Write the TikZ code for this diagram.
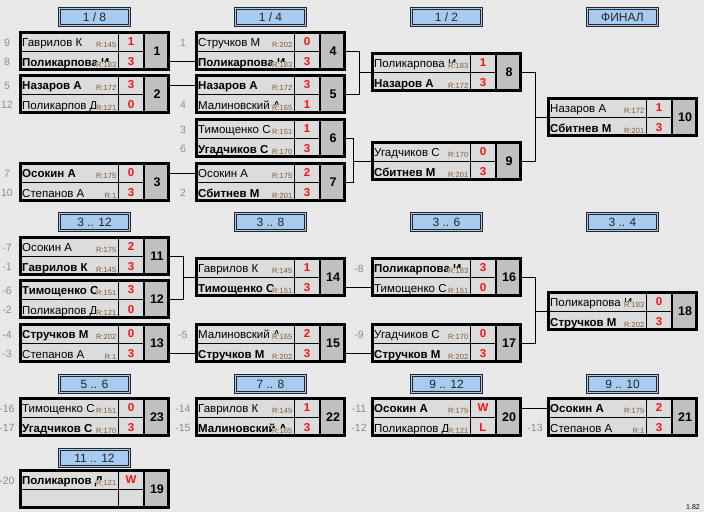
\documentclass[tikz,border=0pt]{standalone}
\usepackage{fontspec}
\setmainfont{Liberation Sans}
\definecolor{bgc}{HTML}{E8E8E8}
\definecolor{cellc}{HTML}{DCDCDC}
\definecolor{numc}{HTML}{C0C0C0}
\definecolor{hdrc}{HTML}{A6CAF0}
\definecolor{ratc}{HTML}{7A5C36}
\definecolor{seedc}{HTML}{8C8C8C}
\definecolor{scorec}{HTML}{FF1010}
\tikzset{
  nm/.style={font=\fontsize{11.5}{13}\selectfont, inner sep=0pt, anchor=base west},
  wn/.style={font=\fontsize{11.5}{13}\selectfont\bfseries},
  rt/.style={font=\fontsize{7.5}{9}\selectfont, text=ratc, fill=cellc, inner sep=0.6pt, anchor=base east},
  sc/.style={font=\fontsize{11.5}{13}\selectfont\bfseries, text=scorec, inner sep=0pt},
  numt/.style={font=\fontsize{12.5}{14}\selectfont\bfseries, inner sep=0pt},
  seed/.style={font=\fontsize{10.5}{12}\selectfont, text=seedc, inner sep=0pt},
  hdrs/.style={fill=hdrc, draw=black!85, line width=0.8pt, minimum width=72pt, minimum height=19pt, inner sep=0pt, font=\fontsize{12}{14}\selectfont, text=black!85, anchor=north},
  conn/.style={draw=black, line width=0.8pt},
  frame/.style={inner sep=0pt, outer sep=0pt, minimum width=151pt, minimum height=40pt, anchor=north west}
}
% match box: #1 number, #2 x, #3 y
\newcommand\mtch[3]{%
  \node[frame] (m#1) at (#2,#3) {};
  \fill[cellc] (#2,#3) rectangle ++(125,40);
  \fill[numc] (#2+125,#3) rectangle ++(26,40);
  \draw[line width=0.8pt] (#2,#3+20) -- ++(125,0);
  \draw[line width=0.8pt] (#2+99,#3) -- ++(0,40);
  \draw[line width=2.6pt] (#2+125,#3) -- ++(0,40);
  \draw[line width=2.6pt] (#2+1.3,#3+1.3) rectangle (#2+151-1.3,#3+40-1.3);
  \node[numt] (m#1t) at (#2+138,#3+20.5) {#1};
  \coordinate (m#1-l1) at (#2,#3+11);
  \coordinate (m#1-l2) at (#2,#3+30.5);
}
% player row: #1 id, #2 x, #3 row top, #4 style, #5 name, #6 rating, #7 score
\newcommand\plr[7]{%
  \begin{scope}
    \clip (#2,#3) rectangle ++(98.5,19);
    \node[nm,#4] (#1n) at (#2+3,#3+15) {#5};
  \end{scope}
  \node[rt] (#1r) at (#2+98,#3+16.8) {#6};
  \node[sc] (#1s) at (#2+112,#3+10.5) {#7};
}
% header: #1 id, #2 center x, #3 top y, #4 text
\newcommand\hdr[4]{%
  \node[hdrs] (#1) at (#2,#3) {#4};
  \draw[line width=0.6pt, black!85] ([shift={(2.2pt,-2.2pt)}]#1.north west) rectangle ([shift={(-2.2pt,2.2pt)}]#1.south east);
}
\begin{document}
\begin{tikzpicture}[x=1pt,y=-1pt]
\useasboundingbox (0,0) rectangle (704,512);
\fill[bgc] (0,0) rectangle (704,512);

% headers
\hdr{h1}{94.5}{7}{1 / 8}
\hdr{h2}{270.5}{7}{1 / 4}
\hdr{h3}{446.5}{7}{1 / 2}
\hdr{h4}{622.5}{7}{ФИНАЛ}
\hdr{h5}{94.5}{212}{3 .. 12}
\hdr{h6}{270.5}{212}{3 .. 8}
\hdr{h7}{446.5}{212}{3 .. 6}
\hdr{h8}{622.5}{212}{3 .. 4}
\hdr{h9}{94.5}{374}{5 .. 6}
\hdr{h10}{270.5}{374}{7 .. 8}
\hdr{h11}{446.5}{374}{9 .. 12}
\hdr{h12}{622.5}{374}{9 .. 10}
\hdr{h13}{94.5}{448}{11 .. 12}

% section 1
\mtch{1}{19}{31}
\plr{p1a}{19}{31}{}{Гаврилов К}{R:145}{1}
\plr{p1b}{19}{51}{wn}{Поликарпова И}{R:183}{3}
\mtch{2}{19}{74}
\plr{p2a}{19}{74}{wn}{Назаров А}{R:172}{3}
\plr{p2b}{19}{94}{}{Поликарпов Д}{R:121}{0}
\mtch{3}{19}{162}
\plr{p3a}{19}{162}{wn}{Осокин А}{R:175}{0}
\plr{p3b}{19}{182}{}{Степанов А}{R:1}{3}
\mtch{4}{195}{31}
\plr{p4a}{195}{31}{}{Стручков М}{R:202}{0}
\plr{p4b}{195}{51}{wn}{Поликарпова И}{R:183}{3}
\mtch{5}{195}{74}
\plr{p5a}{195}{74}{wn}{Назаров А}{R:172}{3}
\plr{p5b}{195}{94}{}{Малиновский А}{R:165}{1}
\mtch{6}{195}{118}
\plr{p6a}{195}{118}{}{Тимощенко С}{R:151}{1}
\plr{p6b}{195}{138}{wn}{Угадчиков С}{R:170}{3}
\mtch{7}{195}{162}
\plr{p7a}{195}{162}{}{Осокин А}{R:175}{2}
\plr{p7b}{195}{182}{wn}{Сбитнев М}{R:201}{3}
\mtch{8}{371}{52}
\plr{p8a}{371}{52}{}{Поликарпова И}{R:183}{1}
\plr{p8b}{371}{72}{wn}{Назаров А}{R:172}{3}
\mtch{9}{371}{141}
\plr{p9a}{371}{141}{}{Угадчиков С}{R:170}{0}
\plr{p9b}{371}{161}{wn}{Сбитнев М}{R:201}{3}
\mtch{10}{547}{97}
\plr{p10a}{547}{97}{}{Назаров А}{R:172}{1}
\plr{p10b}{547}{117}{wn}{Сбитнев М}{R:201}{3}

% section 2
\mtch{11}{19}{236}
\plr{p11a}{19}{236}{}{Осокин А}{R:175}{2}
\plr{p11b}{19}{256}{wn}{Гаврилов К}{R:145}{3}
\mtch{12}{19}{279}
\plr{p12a}{19}{279}{wn}{Тимощенко С}{R:151}{3}
\plr{p12b}{19}{299}{}{Поликарпов Д}{R:121}{0}
\mtch{13}{19}{323}
\plr{p13a}{19}{323}{wn}{Стручков М}{R:202}{0}
\plr{p13b}{19}{343}{}{Степанов А}{R:1}{3}
\mtch{14}{195}{257}
\plr{p14a}{195}{257}{}{Гаврилов К}{R:145}{1}
\plr{p14b}{195}{277}{wn}{Тимощенко С}{R:151}{3}
\mtch{15}{195}{323}
\plr{p15a}{195}{323}{}{Малиновский А}{R:165}{2}
\plr{p15b}{195}{343}{wn}{Стручков М}{R:202}{3}
\mtch{16}{371}{257}
\plr{p16a}{371}{257}{wn}{Поликарпова И}{R:183}{3}
\plr{p16b}{371}{277}{}{Тимощенко С}{R:151}{0}
\mtch{17}{371}{323}
\plr{p17a}{371}{323}{}{Угадчиков С}{R:170}{0}
\plr{p17b}{371}{343}{wn}{Стручков М}{R:202}{3}
\mtch{18}{547}{291}
\plr{p18a}{547}{291}{}{Поликарпова И}{R:183}{0}
\plr{p18b}{547}{311}{wn}{Стручков М}{R:202}{3}

% section 3
\mtch{23}{19}{397}
\plr{p23a}{19}{397}{}{Тимощенко С}{R:151}{0}
\plr{p23b}{19}{417}{wn}{Угадчиков С}{R:170}{3}
\mtch{22}{195}{397}
\plr{p22a}{195}{397}{}{Гаврилов К}{R:145}{1}
\plr{p22b}{195}{417}{wn}{Малиновский А}{R:165}{3}
\mtch{20}{371}{397}
\plr{p20a}{371}{397}{wn}{Осокин А}{R:175}{W}
\plr{p20b}{371}{417}{}{Поликарпов Д}{R:121}{L}
\mtch{21}{547}{397}
\plr{p21a}{547}{397}{wn}{Осокин А}{R:175}{2}
\plr{p21b}{547}{417}{}{Степанов А}{R:1}{3}
\mtch{19}{19}{469}
\plr{p19a}{19}{469}{wn}{Поликарпов Д}{R:121}{W}

% seeds
\node[seed] (s1a) at (7,43) {9};
\node[seed] (s1b) at (7,62) {8};
\node[seed] (s2a) at (7,86) {5};
\node[seed] (s2b) at (7,105) {12};
\node[seed] (s3a) at (7,174) {7};
\node[seed] (s3b) at (7,193) {10};
\node[seed] (s4a) at (183,43) {1};
\node[seed] (s5b) at (183,105) {4};
\node[seed] (s6a) at (183,130) {3};
\node[seed] (s6b) at (183,149) {6};
\node[seed] (s7b) at (183,193) {2};
\node[seed] (s11a) at (7,248) {-7};
\node[seed] (s11b) at (7,267) {-1};
\node[seed] (s12a) at (7,291) {-6};
\node[seed] (s12b) at (7,310) {-2};
\node[seed] (s13a) at (7,335) {-4};
\node[seed] (s13b) at (7,354) {-3};
\node[seed] (s15a) at (183,335) {-5};
\node[seed] (s16a) at (359,269) {-8};
\node[seed] (s17a) at (359,335) {-9};
\node[seed] (s23a) at (7,409) {-16};
\node[seed] (s23b) at (7,428) {-17};
\node[seed] (s22a) at (183,409) {-14};
\node[seed] (s22b) at (183,428) {-15};
\node[seed] (s20a) at (359,409) {-11};
\node[seed] (s20b) at (359,428) {-12};
\node[seed] (s21b) at (535,428) {-13};
\node[seed] (s19a) at (7,481) {-20};

% connectors
\draw[conn] (m1.east |- m4-l2) -- (m4-l2);
\draw[conn] (m2.east |- m5-l1) -- (m5-l1);
\draw[conn] (m3.east |- m7-l1) -- (m7-l1);
\draw[conn] (m4.east) -- ++(13,0) |- (m8.west);
\draw[conn] (m5.east) -- ++(13,0) |- (m8.west);
\draw[conn] (m6.east) -- ++(7,0) |- (m9.west);
\draw[conn] (m7.east) -- ++(7,0) |- (m9.west);
\draw[conn] (m8.east) -- ++(13,0) |- (m10.west);
\draw[conn] (m9.east) -- ++(13,0) |- (m10.west);
\draw[conn] (m11.east) -- ++(13,0) |- (m14.west);
\draw[conn] (m12.east) -- ++(13,0) |- (m14.west);
\draw[conn] (m13.east |- m15-l2) -- (m15-l2);
\draw[conn] (m14.east |- m16-l2) -- (m16-l2);
\draw[conn] (m15.east |- m17-l2) -- (m17-l2);
\draw[conn] (m16.east) -- ++(13,0) |- (m18.west);
\draw[conn] (m17.east) -- ++(13,0) |- (m18.west);
\draw[conn] (m20.east |- m21-l1) -- (m21-l1);

\node[font=\fontsize{7}{8}\selectfont, anchor=base east, inner sep=0pt] (ver) at (700,509) {1.82};
\end{tikzpicture}
\end{document}
